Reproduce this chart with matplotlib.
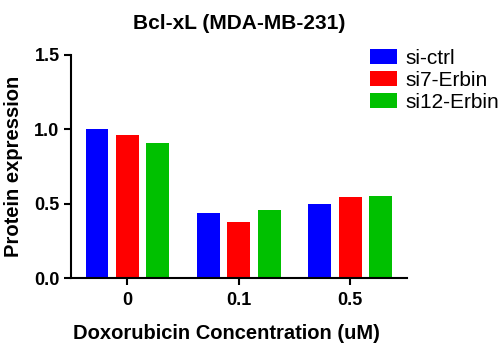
import numpy as np
import matplotlib.pyplot as plt

# Data
concentrations = ['0', '0.1', '0.5']
groups = ['si-ctrl', 'si7-Erbin', 'si12-Erbin']
si_ctrl = [1.005, 0.437, 0.498]
si7_erbin = [0.962, 0.379, 0.543]
si12_erbin = [0.908, 0.457, 0.551]
colors = ['#0000FF', '#FF0000', '#00C000']

plt.rcParams['font.family'] = ['Liberation Sans', 'DejaVu Sans']
plt.rcParams['font.weight'] = 'bold'

fig = plt.figure(figsize=(5, 3.47), dpi=100)
ax = fig.add_axes([0.1414, 0.1988, 0.672, 0.6427])

x = np.arange(len(concentrations))
step = 0.272
width = 0.206
for i, (vals, name) in enumerate(zip([si_ctrl, si7_erbin, si12_erbin], groups)):
    ax.bar(x + (i - 1) * step, vals, width, color=colors[i], label=name)

ax.set_xlim(-0.508, 2.506)
ax.set_ylim(0, 1.5)
ax.set_yticks([0.0, 0.5, 1.0, 1.5])
ax.set_yticklabels(['0.0', '0.5', '1.0', '1.5'])
ax.set_xticks(x)
ax.set_xticklabels(concentrations)

for s in ['top', 'right']:
    ax.spines[s].set_visible(False)
for s in ['left', 'bottom']:
    ax.spines[s].set_linewidth(1.5)
ax.tick_params(width=1.5, length=5, labelsize=13, pad=3)
ax.tick_params(axis='x', pad=5)

ax.set_title('Bcl-xL (MDA-MB-231)', fontsize=15, fontweight='bold', pad=19)
ax.set_ylabel('Protein expression', fontsize=14.5, fontweight='bold', labelpad=8)
ax.set_xlabel('Doxorubicin Concentration (uM)', fontsize=14.5, fontweight='bold',
              labelpad=11, x=0.464)

leg = ax.legend(loc='upper left', bbox_to_anchor=(0.891, 1.028), frameon=False,
                prop={'size': 15, 'weight': 'normal'}, handlelength=1.3,
                handleheight=0.72, labelspacing=0.15, handletextpad=0.4,
                borderpad=0, borderaxespad=0)

fig.savefig('out.png', dpi=100)
